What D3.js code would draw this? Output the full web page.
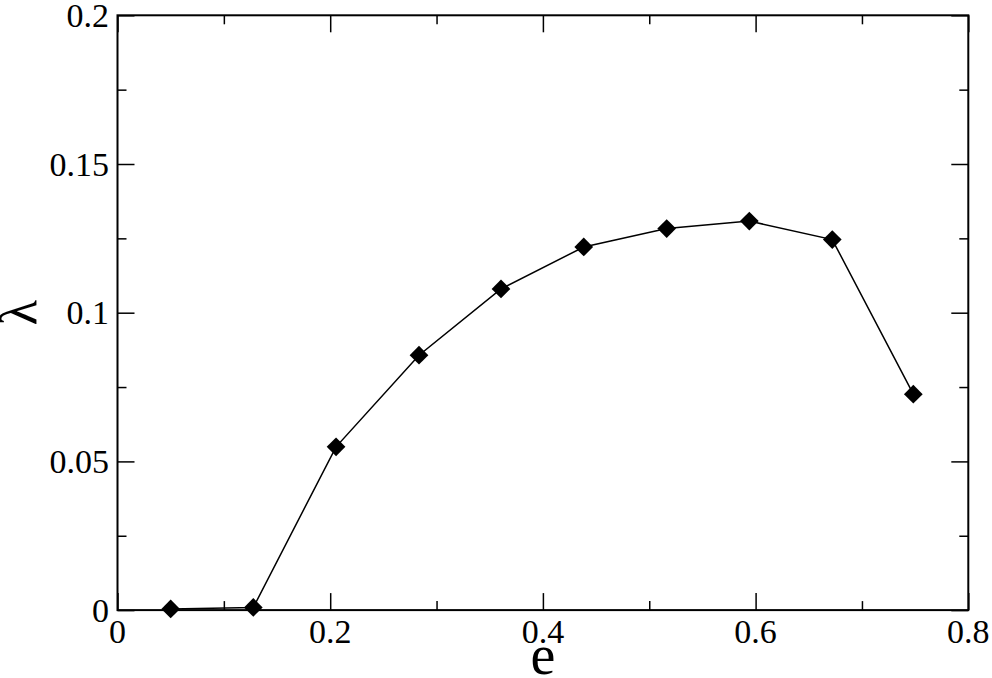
<!DOCTYPE html>
<html>
<head>
<meta charset="utf-8">
<script src="https://cdn.jsdelivr.net/npm/d3@7"></script>
</head>
<body style="margin:0">
<svg id="chart" width="992" height="678"></svg>
<script>
const eValues = [0.050, 0.1277, 0.2055, 0.2835, 0.3606, 0.4384, 0.5164, 0.5941, 0.6721, 0.7483];
const lambdaValues = [0.0004, 0.0009, 0.0549, 0.0857, 0.1080, 0.1221, 0.1283, 0.1308, 0.1246, 0.0726];
const xMajorTicks = [0, 0.2, 0.4, 0.6, 0.8];
const xMinorTicks = [0.1, 0.3, 0.5, 0.7];
const yMajorTicks = [0, 0.05, 0.1, 0.15, 0.2];
const yMinorTicks = [0.025, 0.075, 0.125, 0.175];
const xLabel = "e";
const yLabel = "λ";

const svg = d3.select("#chart");
const W = 992, H = 678;
const x = d3.scaleLinear().domain([0, 0.8]).range([117.5, 968.3]);
const y = d3.scaleLinear().domain([0, 0.2]).range([610.1, 15.3]);
const serifFamily = "Liberation Serif";
const fmt = d => d === 0 ? "0" : String(+d.toFixed(3));

function addText(parent, str, size) {
  return parent.append("text")
    .attr("font-family", serifFamily)
    .attr("font-size", size)
    .style("font-family", `"${serifFamily}"`)
    .style("font-size", size + "px")
    .attr("fill", "#000")
    .text(str);
}

function ticks(axisGen, tx, ty, values, size) {
  svg.append("g").attr("transform", `translate(${tx},${ty})`)
    .call(axisGen.tickValues(values).tickSize(size).tickFormat(""))
    .call(g => g.select(".domain").remove())
    .call(g => g.selectAll(".tick line").attr("stroke", "#000").attr("stroke-width", 1.5))
    .call(g => g.selectAll(".tick text").remove());
}

// inward ticks on all four sides (negative size = inward)
ticks(d3.axisBottom(x), 0, y(0), xMajorTicks, -17);
ticks(d3.axisBottom(x), 0, y(0), xMinorTicks, -9);
ticks(d3.axisTop(x), 0, y(0.2), xMajorTicks, -17);
ticks(d3.axisTop(x), 0, y(0.2), xMinorTicks, -9);
ticks(d3.axisLeft(y), x(0), 0, yMajorTicks, -17);
ticks(d3.axisLeft(y), x(0), 0, yMinorTicks, -9);
ticks(d3.axisRight(y), x(0.8), 0, yMajorTicks, -17);
ticks(d3.axisRight(y), x(0.8), 0, yMinorTicks, -9);

// tick labels
const xl = svg.append("g");
xMajorTicks.forEach(v => {
  addText(xl, fmt(v), 34).attr("x", x(v)).attr("y", 643).attr("text-anchor", "middle");
});
const yl = svg.append("g");
yMajorTicks.forEach(v => {
  addText(yl, fmt(v), 34).attr("x", 109).attr("y", y(v)).attr("dy", "0.34em").attr("text-anchor", "end");
});

// frame
svg.append("rect")
  .attr("x", x(0)).attr("y", y(0.2))
  .attr("width", x(0.8) - x(0)).attr("height", y(0) - y(0.2))
  .attr("fill", "none").attr("stroke", "#000").attr("stroke-width", 2);

// data line
const data = eValues.map((e, i) => ({ e, l: lambdaValues[i] }));
svg.append("path").datum(data)
  .attr("fill", "none").attr("stroke", "#000").attr("stroke-width", 1.5)
  .attr("d", d3.line().x(d => x(d.e)).y(d => y(d.l)));

// diamond markers
const sym = d3.symbol().type(d3.symbolSquare).size(175);
svg.append("g").selectAll("path").data(data).join("path")
  .attr("d", sym)
  .attr("transform", d => `translate(${x(d.e)},${y(d.l)}) rotate(45)`)
  .attr("fill", "#000");

// axis labels
addText(svg, xLabel, 56).attr("x", x(0.4)).attr("y", 674).attr("text-anchor", "middle");
addText(svg, yLabel, 52).attr("text-anchor", "middle")
  .attr("transform", `translate(36,${y(0.1)}) rotate(-90)`);
</script>
</body>
</html>
